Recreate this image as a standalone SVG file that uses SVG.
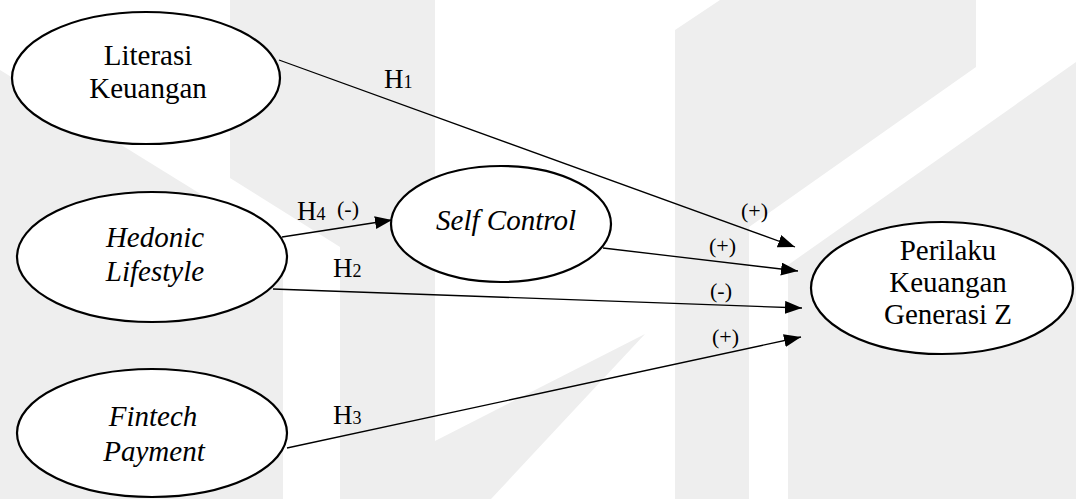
<svg xmlns="http://www.w3.org/2000/svg" width="1076" height="499" viewBox="0 0 1076 499">
<style>
.wm{fill:#eeeeee;stroke:none}
.node ellipse{fill:#fff;stroke:#000;stroke-width:2.2}
text{font-family:'Liberation Serif','Times New Roman',serif;fill:#000}
.t{font-size:29px;text-anchor:middle}
.i{font-style:italic}
.lbl{font-size:27px}
.sub{font-size:18px}
.sign{font-size:22px}
.edge{stroke:#000;stroke-width:1.3;fill:none;marker-end:url(#arr)}
</style>
<defs>
<marker id="arr" markerUnits="userSpaceOnUse" markerWidth="18" markerHeight="14" refX="17" refY="6.5" orient="auto">
<path d="M0,0 L17,6.5 L0,13 z" fill="#000"/>
</marker>
</defs>
<rect width="1076" height="499" fill="#fff"/>
<g id="watermark">
<polygon class="wm" points="0,70 283,245 283,499 0,499"/>
<polygon class="wm" points="230,0 435,0 435,441 645,334 491,499 340,499 340,247 230,178"/>
<polygon class="wm" points="675,30 720,0 976,0 976,67 749,227 749,499 675,499"/>
<polygon class="wm" points="788,265 1076,62 1076,499 788,499"/>
</g>
<g id="connectors">
<line class="edge" x1="279" y1="60" x2="795" y2="247"/>
<line class="edge" x1="603" y1="248" x2="798" y2="271"/>
<line class="edge" x1="273" y1="289" x2="802" y2="308"/>
<line class="edge" x1="287" y1="448" x2="801" y2="337"/>
<line class="edge" x1="282" y1="237" x2="392" y2="220"/>
<text class="lbl" x="384" y="88">H<tspan class="sub">1</tspan></text>
<text class="lbl" x="297" y="220">H<tspan class="sub">4</tspan></text>
<text class="sign" x="337" y="216">(-)</text>
<text class="lbl" x="333" y="277">H<tspan class="sub">2</tspan></text>
<text class="lbl" x="333" y="424">H<tspan class="sub">3</tspan></text>
<text class="sign" x="741" y="218">(+)</text>
<text class="sign" x="709" y="253">(+)</text>
<text class="sign" x="710" y="298">(-)</text>
<text class="sign" x="712" y="344">(+)</text>
</g>
<g id="literasi" class="node">
<ellipse cx="146" cy="78" rx="134" ry="66"/>
<text class="t" x="148" y="65">Literasi</text>
<text class="t" x="148" y="98">Keuangan</text>
</g>
<g id="hedonic" class="node">
<ellipse cx="152" cy="257" rx="135" ry="65"/>
<text class="t i" x="155" y="247">Hedonic</text>
<text class="t i" x="155" y="281">Lifestyle</text>
</g>
<g id="fintech" class="node">
<ellipse cx="152" cy="433" rx="135" ry="64"/>
<text class="t i" x="153" y="426">Fintech</text>
<text class="t i" x="154" y="461">Payment</text>
</g>
<g id="selfcontrol" class="node">
<ellipse cx="501" cy="224" rx="110" ry="58"/>
<text class="t i" x="506" y="230">Self Control</text>
</g>
<g id="perilaku" class="node">
<ellipse cx="942" cy="288" rx="131" ry="66"/>
<text class="t" x="948" y="260">Perilaku</text>
<text class="t" x="948" y="292">Keuangan</text>
<text class="t" x="948" y="324">Generasi Z</text>
</g>
</svg>
